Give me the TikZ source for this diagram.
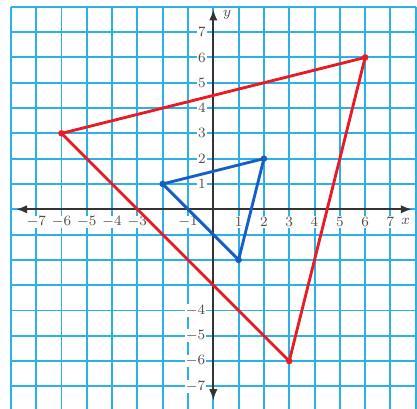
\documentclass[tikz,border=0pt]{standalone}
\usetikzlibrary{arrows.meta}

\definecolor{gridblue}{RGB}{45,175,232}
\definecolor{trired}{RGB}{232,28,36}
\definecolor{triblue}{RGB}{20,95,195}

\begin{document}
\begin{tikzpicture}[
    x=0.5cm, y=0.5cm,
    gridline/.style={draw=gridblue, line width=1.1pt},
    axis/.style={draw=black!80, line width=1pt, {Latex[length=2.2mm]}-{Latex[length=2.2mm]}},
    tick/.style={font=\footnotesize, fill=white, inner sep=0.6pt, text=black!70},
    bigtri/.style={draw=trired, line width=1.6pt, line join=round},
    smalltri/.style={draw=triblue, line width=1.6pt, line join=round},
    vertex/.style={circle, inner sep=0pt, minimum size=1.3mm},
]

% Page size
\useasboundingbox (-8.43,-7.89) rectangle (8.05,8.27);

% Grid
\foreach \i in {-8,...,8} {
    \draw[gridline] (\i,-7.95) -- (\i,8);
}
\foreach \j in {-7,...,8} {
    \draw[gridline] (-8,\j) -- (8,\j);
}

% Axes
\draw[axis] (-7.8,0) -- (7.85,0);
\draw[axis] (0,-7.55) -- (0,7.9);
\node[font=\footnotesize\itshape, text=black!70] (xlab) at (7.6,-0.5) {$x$};
\node[font=\footnotesize\itshape, text=black!70] (ylab) at (0.55,7.7) {$y$};

% Tick labels
\foreach \i in {-7,-6,-5,-4,-3,-1,1,2,3,4,5,6,7} {
    \node[tick] (x\i) at (\i,-0.5) {$\i$};
}
\foreach \j in {1,...,7} {
    \node[tick] (y\j) at (-0.45,\j) {$\j$};
}
\foreach \j in {-4,-5,-6,-7} {
    \node[tick] (y\j) at (-0.7,\j) {$\j$};
}

% Red triangle
\coordinate (A) at (-6,3);
\coordinate (B) at (6,6);
\coordinate (C) at (3,-6);
\draw[bigtri] (A) -- (B) -- (C) -- cycle;
\foreach \v in {A,B,C} {
    \node[vertex, fill=trired] at (\v) {};
}

% Blue triangle
\coordinate (P) at (-2,1);
\coordinate (Q) at (2,2);
\coordinate (R) at (1,-2);
\draw[smalltri] (P) -- (Q) -- (R) -- cycle;
\foreach \v in {P,Q,R} {
    \node[vertex, fill=triblue] at (\v) {};
}

\end{tikzpicture}
\end{document}
